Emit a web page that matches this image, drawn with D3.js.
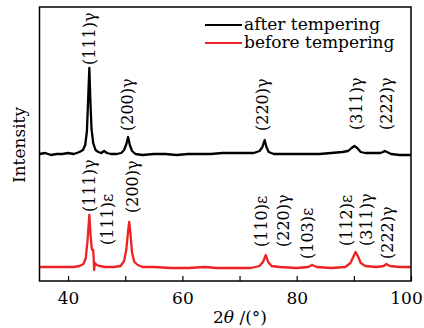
<!DOCTYPE html>
<html lang="en">
<head>
<meta charset="UTF-8">
<title>XRD</title>
<script src="https://d3js.org/d3.v7.min.js"></script>
<style>
  body { margin: 0; background: #fff; }
  text { font-family: "DejaVu Serif", serif; fill: #000; }
</style>
</head>
<body>
<svg id="chart" width="424" height="328"></svg>
<script>
// 2theta (deg), intensity (a.u.)
const afterTempering = [
  [35,127],[36,128],[37,126],[38,127],[39,127],[40,128],[41,127],[42,129],[42.6,131],[43.0,136],
  [43.3,150],[43.5,180],[43.72,213],[43.9,180],[44.1,152],[44.4,138],[44.8,131],[45.3,129],[45.8,128],
  [46.3,130],[46.8,128],[47.5,127],[48.5,127],[49.3,128],[49.8,131],[50.2,137],[50.5,144],[50.8,136],
  [51.2,130],[51.8,127],[53,126],[55,127],[57,127],[59,126],[61,127],[63,127],[65,127],[67,128],
  [69,128],[71,128],[72.5,128],[73.5,130],[74.0,134],[74.4,141],[74.7,134],[75.1,129],[76,127],
  [78,127],[80,127],[82,127],[84,127],[86,128],[88,129],[89.0,130],[89.6,133],[90.1,135],[90.6,133],
  [91.2,129],[92,128],[93.5,128],[94.6,128],[95.1,129],[95.4,130],[95.8,129],[96.5,127],[98,126],[100,126]
];
const beforeTempering = [
  [35,14],[37,14],[39,14],[41,14],[42,15],[42.7,17],[43.1,23],[43.4,40],[43.72,66],[43.95,45],
  [44.15,32],[44.3,31],[44.4,31],[44.5,20],[44.55,11],[44.7,18],[45.0,16],[45.5,15],[46.5,14],[48,14],
  [49.2,15],[49.8,20],[50.2,32],[50.5,50],[50.7,59],[50.9,48],[51.2,28],[51.6,19],[52.2,16],[53,14],
  [55,14],[58,13],[61,13],[64,14],[66,13],[69,13],[72,13],[73.5,15],[74.1,19],[74.6,26],[75.0,19],
  [75.6,15],[77,14],[80,13],[82,14],[82.7,16],[83.5,14],[86,13],[88.5,14],[89.4,18],[89.9,24],
  [90.3,29],[90.7,25],[91.2,18],[92,15],[94,14],[95.2,15],[95.7,17],[96.3,15],[98,14],[100,14]
];
// peak labels: text, 2theta, intensity at the label foot
const afterLabels = [
  ["(111)γ",43.7,216],["(200)γ",50.4,150],["(220)γ",73.9,150],["(311)γ",90.4,151],["(222)γ",95.6,151]
];
const beforeLabels = [
  ["(111)γ",43.7,69],["(111)ε",46.9,36],["(200)γ",51.2,68],["(110)ε",73.8,34],["(220)γ",77.7,34],
  ["(103)ε",81.9,22],["(112)ε",88.6,35],["(311)γ",92.2,35],["(222)γ",95.8,22]
];
const series = ["after tempering", "before tempering"];
const colors = ["#000000", "#ee2222"];
const xTicks = [40, 50, 60, 70, 80, 90, 100];

const svg = d3.select("#chart");
const margin = { top: 7, right: 13, bottom: 47, left: 39.5 };
const width = 424 - margin.left - margin.right;
const height = 328 - margin.top - margin.bottom;

const g = svg.append("g")
  .attr("transform", "translate(" + margin.left + "," + margin.top + ")");

const x = d3.scaleLinear().domain([35, 100]).range([0, width]);
const y = d3.scaleLinear().domain([0, 274]).range([height, 0]);

const line = d3.line().x(d => x(d[0])).y(d => y(d[1]));

g.append("path").datum(beforeTempering)
  .attr("d", line).attr("fill", "none")
  .attr("stroke", colors[1]).attr("stroke-width", 2.3).attr("stroke-linejoin", "round");
g.append("path").datum(afterTempering)
  .attr("d", line).attr("fill", "none")
  .attr("stroke", colors[0]).attr("stroke-width", 2.3).attr("stroke-linejoin", "round");

// peak labels
const allLabels = afterLabels.concat(beforeLabels);
g.selectAll("text.peak")
  .data(allLabels)
  .join("text")
  .attr("class", "peak")
  .attr("transform", d => "translate(" + x(d[1]) + "," + y(d[2]) + ") rotate(-90)")
  .attr("dy", "0.36em")
  .style("font-size", "16px")
  .text(d => d[0]);

// axis
const xAxis = d3.axisBottom(x)
  .tickValues(xTicks)
  .tickSizeInner(-5)
  .tickSizeOuter(0)
  .tickPadding(11)
  .tickFormat(d => d % 20 === 0 ? d : "");
const ax = g.append("g")
  .attr("transform", "translate(0," + height + ")")
  .call(xAxis);
ax.select(".domain").remove();
ax.selectAll(".tick line").attr("stroke", "#000").attr("stroke-width", 1.2);
ax.selectAll(".tick text")
  .style("font-family", "DejaVu Serif").style("font-size", "17px")
  .attr("dx", d => d === 100 ? -5 : 0);

g.append("rect")
  .attr("width", width).attr("height", height)
  .attr("fill", "none").attr("stroke", "#000").attr("stroke-width", 1.5);

// legend
const legend = svg.append("g");
series.forEach((s, i) => {
  const ly = 25 + i * 18;
  legend.append("line")
    .attr("x1", 205).attr("x2", 242).attr("y1", ly).attr("y2", ly)
    .attr("stroke", colors[i]).attr("stroke-width", 2);
  legend.append("text")
    .attr("x", 244).attr("y", ly).attr("dy", "0.32em")
    .style("font-size", "17px")
    .text(s);
});

// axis titles
svg.append("text")
  .attr("transform", "translate(25,145) rotate(-90)")
  .attr("text-anchor", "middle")
  .style("font-size", "17px")
  .text("Intensity");

const xt = svg.append("text")
  .attr("x", 240).attr("y", 323)
  .attr("text-anchor", "middle")
  .style("font-size", "17px");
xt.append("tspan").text("2");
xt.append("tspan").style("font-style", "italic").text("θ");
xt.append("tspan").text(" /(°)");
</script>
</body>
</html>
